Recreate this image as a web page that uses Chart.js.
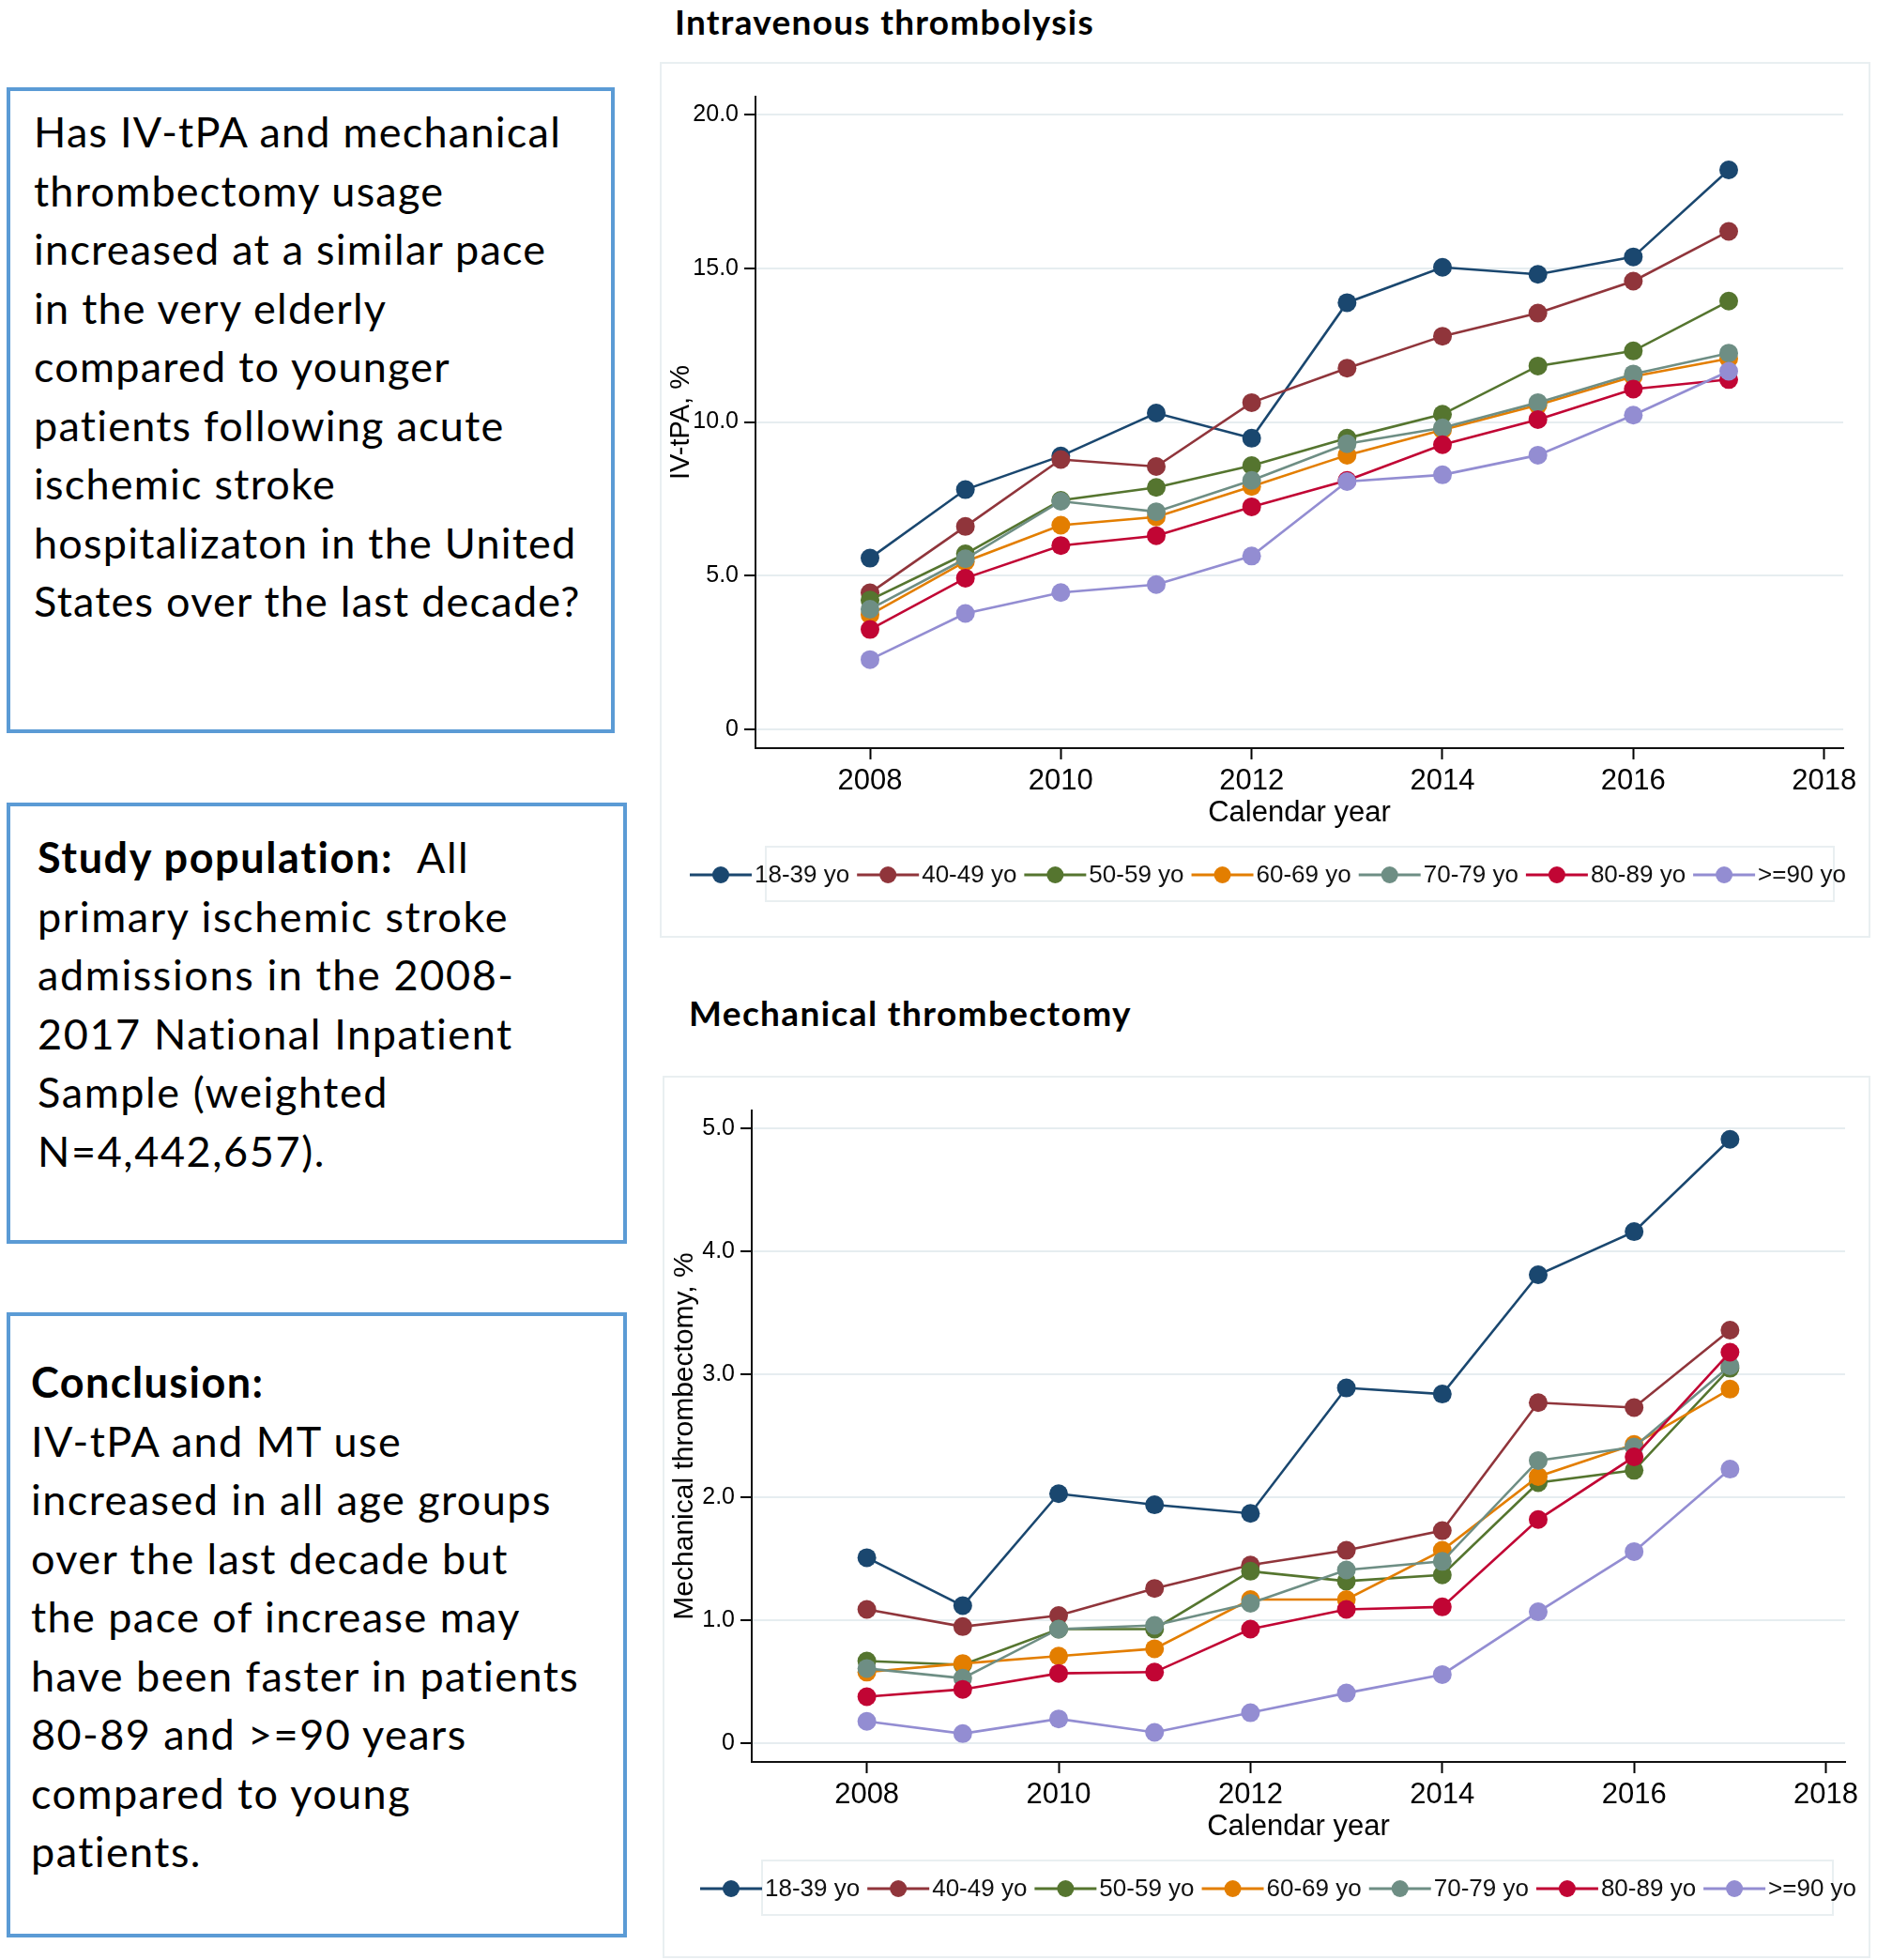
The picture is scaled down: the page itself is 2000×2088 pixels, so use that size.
<!DOCTYPE html>
<html>
<head>
<meta charset="utf-8">
<script src="https://cdn.jsdelivr.net/npm/chart.js@4.4.0/dist/chart.umd.min.js"></script>
<style>
html,body{margin:0;padding:0;background:#fff;}
body{width:2000px;height:2088px;position:relative;overflow:hidden;font-family:Lato,sans-serif;}
.box{position:absolute;border:4px solid #5b9bd5;box-sizing:border-box;}
.txt{position:absolute;color:#000;white-space:nowrap;font-family:Lato,sans-serif;line-height:62.5px;}
.txt .ln span{display:inline-block;}
.title{position:absolute;font-family:Lato,sans-serif;font-weight:700;color:#000;white-space:nowrap;line-height:1;}
.panel{position:absolute;border:2px solid #e9eff1;box-sizing:border-box;}
.cw{position:absolute;}
</style>
</head>
<body>

<div class="box" style="left:7px;top:93px;width:648px;height:688px;"></div>
<div class="box" style="left:7px;top:855px;width:661px;height:470px;"></div>
<div class="box" style="left:7px;top:1398px;width:661px;height:666px;"></div>

<div class="txt" id="t1" style="left:36px;top:109px;font-size:45px;" data-w="562" data-ref="0">
  <div class="ln"><span>Has IV-tPA and mechanical</span></div>
  <div class="ln"><span>thrombectomy usage</span></div>
  <div class="ln"><span>increased at a similar pace</span></div>
  <div class="ln"><span>in the very elderly</span></div>
  <div class="ln"><span>compared to younger</span></div>
  <div class="ln"><span>patients following acute</span></div>
  <div class="ln"><span>ischemic stroke</span></div>
  <div class="ln"><span>hospitalizaton in the United</span></div>
  <div class="ln"><span>States over the last decade?</span></div>
</div>

<div class="txt" id="t2" style="left:40px;top:882px;font-size:45px;" data-w="502" data-ref="1">
  <div class="ln"><span><b>Study population:</b>&nbsp; All</span></div>
  <div class="ln"><span>primary ischemic stroke</span></div>
  <div class="ln"><span>admissions in the 2008-</span></div>
  <div class="ln"><span>2017 National Inpatient</span></div>
  <div class="ln"><span>Sample (weighted</span></div>
  <div class="ln"><span>N=4,442,657).</span></div>
</div>

<div class="txt" id="t3" style="left:33px;top:1441px;font-size:45px;" data-w="585" data-ref="5">
  <div class="ln"><span><b>Conclusion:</b></span></div>
  <div class="ln"><span>IV-tPA and MT use</span></div>
  <div class="ln"><span>increased in all age groups</span></div>
  <div class="ln"><span>over the last decade but</span></div>
  <div class="ln"><span>the pace of increase may</span></div>
  <div class="ln"><span>have been faster in patients</span></div>
  <div class="ln"><span>80-89 and &gt;=90 years</span></div>
  <div class="ln"><span>compared to young</span></div>
  <div class="ln"><span>patients.</span></div>
</div>

<div class="title" id="h1" style="left:719px;top:4px;font-size:37px;" data-w="447">Intravenous thrombolysis</div>
<div class="title" id="h2" style="left:734px;top:1060px;font-size:37px;" data-w="472">Mechanical thrombectomy</div>

<div class="panel" style="left:703px;top:66px;width:1290px;height:933px;"></div>
<div class="panel" style="left:706px;top:1146px;width:1287px;height:940px;"></div>

<div class="cw" style="left:703px;top:66px;width:1290px;height:933px;"><canvas id="c1"></canvas></div>
<div class="cw" style="left:706px;top:1146px;width:1287px;height:940px;"><canvas id="c2"></canvas></div>

<script>
// ---------- data ----------
const years = [2008, 2009, 2010, 2011, 2012, 2013, 2014, 2015, 2016, 2017];
const ageGroups = ['18-39 yo', '40-49 yo', '50-59 yo', '60-69 yo', '70-79 yo', '80-89 yo', '>=90 yo'];
const seriesColors = ['#1a476f', '#90353b', '#55752f', '#e37e00', '#6e8e84', '#c10534', '#938dd2'];

const xTickValues = [2008, 2010, 2012, 2014, 2016, 2018];
const xTickLabels = ['2008', '2010', '2012', '2014', '2016', '2018'];

// IV-tPA, %
const ivtpa_18_39 = [5.57, 7.80, 8.89, 10.29, 9.47, 13.88, 15.03, 14.80, 15.37, 18.20];
const ivtpa_40_49 = [4.44, 6.60, 8.78, 8.55, 10.63, 11.75, 12.79, 13.54, 14.58, 16.20];
const ivtpa_50_59 = [4.21, 5.71, 7.45, 7.87, 8.58, 9.47, 10.25, 11.82, 12.31, 13.93];
const ivtpa_60_69 = [3.73, 5.46, 6.64, 6.91, 7.90, 8.92, 9.74, 10.55, 11.48, 12.06];
const ivtpa_70_79 = [3.91, 5.55, 7.42, 7.08, 8.10, 9.29, 9.81, 10.63, 11.56, 12.24];
const ivtpa_80_89 = [3.25, 4.92, 5.98, 6.30, 7.24, 8.10, 9.26, 10.08, 11.07, 11.38];
const ivtpa_90plus = [2.27, 3.77, 4.45, 4.71, 5.64, 8.06, 8.28, 8.92, 10.22, 11.65];
const ivtpaYTicks = [0, 5, 10, 15, 20];
const ivtpaYTickLabels = ['0', '5.0', '10.0', '15.0', '20.0'];

// Mechanical thrombectomy, %
const mt_18_39 = [1.51, 1.12, 2.03, 1.94, 1.87, 2.89, 2.84, 3.81, 4.16, 4.91];
const mt_40_49 = [1.09, 0.95, 1.04, 1.26, 1.45, 1.57, 1.73, 2.77, 2.73, 3.36];
const mt_50_59 = [0.67, 0.64, 0.93, 0.93, 1.40, 1.32, 1.37, 2.12, 2.22, 3.05];
const mt_60_69 = [0.58, 0.65, 0.71, 0.77, 1.17, 1.17, 1.57, 2.17, 2.43, 2.88];
const mt_70_79 = [0.61, 0.53, 0.93, 0.96, 1.14, 1.41, 1.48, 2.30, 2.41, 3.07];
const mt_80_89 = [0.38, 0.44, 0.57, 0.58, 0.93, 1.09, 1.11, 1.82, 2.33, 3.18];
const mt_90plus = [0.18, 0.08, 0.20, 0.09, 0.25, 0.41, 0.56, 1.07, 1.56, 2.23];
const mtYTicks = [0, 1, 2, 3, 4, 5];
const mtYTickLabels = ['0', '1.0', '2.0', '3.0', '4.0', '5.0'];

// ---------- text fitting ----------
function fitBlock(el) {
  const target = +el.dataset.w;
  const ref = el.querySelectorAll('.ln span')[+el.dataset.ref];
  const w = ref.getBoundingClientRect().width;
  const n = ref.textContent.length;
  el.style.letterSpacing = ((target - w) / n) + 'px';
}
function fitTitle(el) {
  const target = +el.dataset.w;
  const w = el.getBoundingClientRect().width;
  el.style.letterSpacing = ((target - w) / el.textContent.length) + 'px';
}

// ---------- legend plugin ----------
const stataLegend = {
  id: 'stataLegend',
  afterDraw(chart, args, o) {
    const ctx = chart.ctx;
    ctx.save();
    ctx.strokeStyle = '#e9eff1';
    ctx.lineWidth = 2;
    ctx.strokeRect(o.boxX, o.boxY, o.boxW, o.boxH);
    ctx.font = '26px "Liberation Sans", Arial, sans-serif';
    ctx.textBaseline = 'middle';
    ctx.textAlign = 'left';
    let x = o.startX;
    const cy = o.cy;
    chart.data.datasets.forEach(ds => {
      ctx.strokeStyle = ds.borderColor;
      ctx.lineWidth = 3;
      ctx.beginPath(); ctx.moveTo(x, cy); ctx.lineTo(x + 66, cy); ctx.stroke();
      ctx.fillStyle = ds.backgroundColor;
      ctx.beginPath(); ctx.arc(x + 33, cy, 9, 0, Math.PI * 2); ctx.fill();
      ctx.fillStyle = '#111';
      ctx.fillText(ds.label, x + 69, cy + 1);
      x += 69 + ctx.measureText(ds.label).width + 8;
    });
    ctx.restore();
  }
};

Chart.defaults.font.family = '"Liberation Sans", Arial, sans-serif';
Chart.defaults.color = '#000';

function buildChart(id, series, cfg) {
  const datasets = series.map((vals, i) => ({
    label: ageGroups[i],
    data: years.map((yr, j) => ({ x: yr, y: vals[j] })),
    borderColor: seriesColors[i],
    backgroundColor: seriesColors[i],
    pointBackgroundColor: seriesColors[i],
    pointBorderColor: seriesColors[i],
    pointRadius: 10,
    pointBorderWidth: 0,
    borderWidth: 2.6,
    tension: 0,
    order: -i
  }));
  return new Chart(document.getElementById(id), {
    type: 'line',
    data: { datasets },
    options: {
      responsive: true,
      maintainAspectRatio: false,
      animation: false,
      devicePixelRatio: 1,
      layout: { padding: { left: 0, top: cfg.padTop, right: cfg.padRight, bottom: cfg.padBottom } },
      plugins: { legend: { display: false }, tooltip: { enabled: false }, stataLegend: cfg.legend },
      scales: {
        x: {
          type: 'linear', min: 2006.8, max: 2018.2,
          afterBuildTicks: s => { s.ticks = xTickValues.map(v => ({ value: v })); },
          afterFit: s => { s.height = cfg.xAxisH; },
          ticks: { callback: v => xTickLabels[xTickValues.indexOf(v)], font: { size: 31 }, color: '#000', padding: 5, maxRotation: 0, autoSkip: false },
          grid: { drawOnChartArea: false, drawTicks: true, tickLength: 12, tickColor: '#000', tickWidth: 2 },
          border: { display: true, color: '#111', width: 2 },
          title: { display: true, text: 'Calendar year', font: { size: 31 }, color: '#000', padding: { top: 0, bottom: 12 } }
        },
        y: {
          type: 'linear', min: cfg.yMin, max: cfg.yMax,
          afterBuildTicks: s => { s.ticks = cfg.yTicks.map(v => ({ value: v })); },
          afterFit: s => { s.width = cfg.yAxisW; },
          ticks: { callback: v => cfg.yTickLabels[cfg.yTicks.indexOf(v)], font: { size: 25 }, color: '#000', padding: 6 },
          grid: { color: '#e6edf0', lineWidth: 2, drawTicks: true, tickLength: 12, tickColor: '#000', tickWidth: 2 },
          border: { display: true, color: '#111', width: 2 },
          title: { display: true, text: cfg.yTitle, font: { size: cfg.yTitleSize }, color: '#000', padding: { top: 6, bottom: 0 } }
        }
      }
    },
    plugins: [stataLegend]
  });
}

function draw() {
  fitBlock(document.getElementById('t1'));
  fitBlock(document.getElementById('t2'));
  fitBlock(document.getElementById('t3'));
  fitTitle(document.getElementById('h1'));
  fitTitle(document.getElementById('h2'));

  buildChart('c1', [ivtpa_18_39, ivtpa_40_49, ivtpa_50_59, ivtpa_60_69, ivtpa_70_79, ivtpa_80_89, ivtpa_90plus], {
    padTop: 37, padRight: 29, padBottom: 102, yAxisW: 102, xAxisH: 100,
    yMin: -0.61, yMax: 20.58, yTicks: ivtpaYTicks, yTickLabels: ivtpaYTickLabels,
    yTitle: 'IV-tPA, %', yTitleSize: 29,
    legend: { boxX: 113, boxY: 836, boxW: 1138, boxH: 58, startX: 32, cy: 866 }
  });
  buildChart('c2', [mt_18_39, mt_40_49, mt_50_59, mt_60_69, mt_70_79, mt_80_89, mt_90plus], {
    padTop: 37, padRight: 27, padBottom: 109, yAxisW: 95, xAxisH: 100,
    yMin: -0.15, yMax: 5.145, yTicks: mtYTicks, yTickLabels: mtYTickLabels,
    yTitle: 'Mechanical thrombectomy, %', yTitleSize: 30,
    legend: { boxX: 106, boxY: 836, boxW: 1141, boxH: 58, startX: 40, cy: 866 }
  });
}

if (document.fonts && document.fonts.ready) {
  document.fonts.load('45px Lato').then(() => document.fonts.load('bold 45px Lato')).then(draw, draw);
} else {
  draw();
}
</script>
</body>
</html>
